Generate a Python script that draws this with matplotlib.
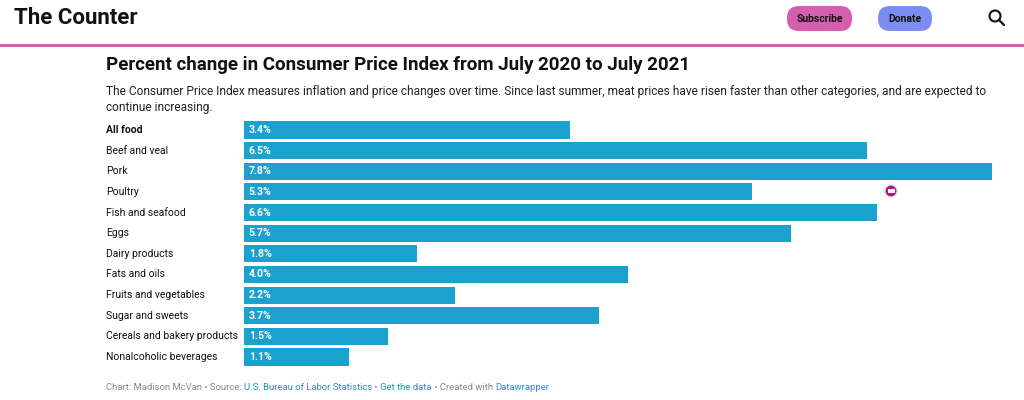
import matplotlib.pyplot as plt
from matplotlib.patches import FancyBboxPatch, Circle, Rectangle

plt.rcParams['font.family'] = ['Roboto', 'DejaVu Sans']

categories = ["All food", "Beef and veal", "Pork", "Poultry", "Fish and seafood",
              "Eggs", "Dairy products", "Fats and oils", "Fruits and vegetables",
              "Sugar and sweets", "Cereals and bakery products", "Nonalcoholic beverages"]
values = [3.4, 6.5, 7.8, 5.3, 6.6, 5.7, 1.8, 4.0, 2.2, 3.7, 1.5, 1.1]

title = "Percent change in Consumer Price Index from July 2020 to July 2021"
subtitle = ("The Consumer Price Index measures inflation and price changes over time. "
            "Since last summer, meat prices have risen faster than other categories, and are expected to\n"
            "continue increasing.")
footer = [("Chart: Madison McVan \u2022 Source: ", "#888888"),
          ("U.S. Bureau of Labor Statistics", "#1d95c4"),
          (" \u2022 ", "#888888"),
          ("Get the data", "#1d95c4"),
          (" \u2022 Created with ", "#888888"),
          ("Datawrapper", "#1d95c4")]

W, H = 1024, 400
BAR = "#1ba1ce"

fig = plt.figure(figsize=(W / 100, H / 100), dpi=100)

# page overlay in pixel units (top-left origin)
page = fig.add_axes([0, 0, 1, 1])
page.set_xlim(0, W)
page.set_ylim(H, 0)
page.axis("off")

# header
page.text(14, 18, "The Counter", fontsize=16, fontweight="bold", va="center", color="#111111")
for x0, x1, col, lab in [(787, 852, "#d35fae", "Subscribe"), (878, 932, "#7b8df2", "Donate")]:
    page.add_patch(FancyBboxPatch((x0, 6), x1 - x0, 25,
                                  boxstyle="round,pad=0,rounding_size=12",
                                  facecolor=col, edgecolor="none"))
    page.text((x0 + x1) / 2, 19, lab, fontsize=7.5, fontweight="bold",
              ha="center", va="center", color="#111111")
page.add_patch(Circle((995, 16), 5.5, fill=False, lw=1.5, edgecolor="#111111"))
page.plot([999, 1004], [20, 25], color="#111111", lw=1.6, solid_capstyle="round")
page.add_patch(Rectangle((0, 44), W, 3, facecolor="#d063a8", edgecolor="none"))

# title and description
page.text(106, 65, title, fontsize=13.5, fontweight="bold", va="center", color="#111111")
page.text(106, 85, subtitle, fontsize=8.55, va="top", color="#222222", linespacing=1.3)

# bars
row0, row_n = 130, 357
step = (row_n - row0) / (len(categories) - 1)
top = row0 - step / 2
bottom = row_n + step / 2
ax = fig.add_axes([244 / W, 1 - bottom / H, (992 - 244) / W, (bottom - top) / H])
ypos = list(range(len(categories)))
ax.barh(ypos, values, height=0.83, color=BAR, edgecolor="none")
ax.set_xlim(0, max(values))
ax.set_ylim(len(categories) - 0.5, -0.5)
ax.axis("off")
for i, (cat, v) in enumerate(zip(categories, values)):
    ax.text(0.05, i, f"{v:.1f}%", color="white", fontsize=7.6, fontweight="bold", va="center")
    ax.annotate(cat, xy=(0, i), xycoords="data", xytext=(106, 0),
                textcoords=("figure pixels", "offset points"), fontsize=7.5, va="center",
                color="#111111", fontweight="bold" if i == 0 else "normal",
                annotation_clip=False)

# stray widget icon
page.add_patch(Circle((891, 191), 6.5, facecolor="#b0157a", edgecolor="#eeeeee", lw=1.5, zorder=5))
page.add_patch(Rectangle((887.5, 189), 7, 4, facecolor="white", edgecolor="none", zorder=6))

# footer
fig.canvas.draw()
renderer = fig.canvas.get_renderer()
x = 106
for txt, col in footer:
    t = page.text(x, 388, txt, fontsize=6.8, color=col, va="center")
    bb = t.get_window_extent(renderer)
    x += bb.width

fig.savefig("out.png", dpi=100)
